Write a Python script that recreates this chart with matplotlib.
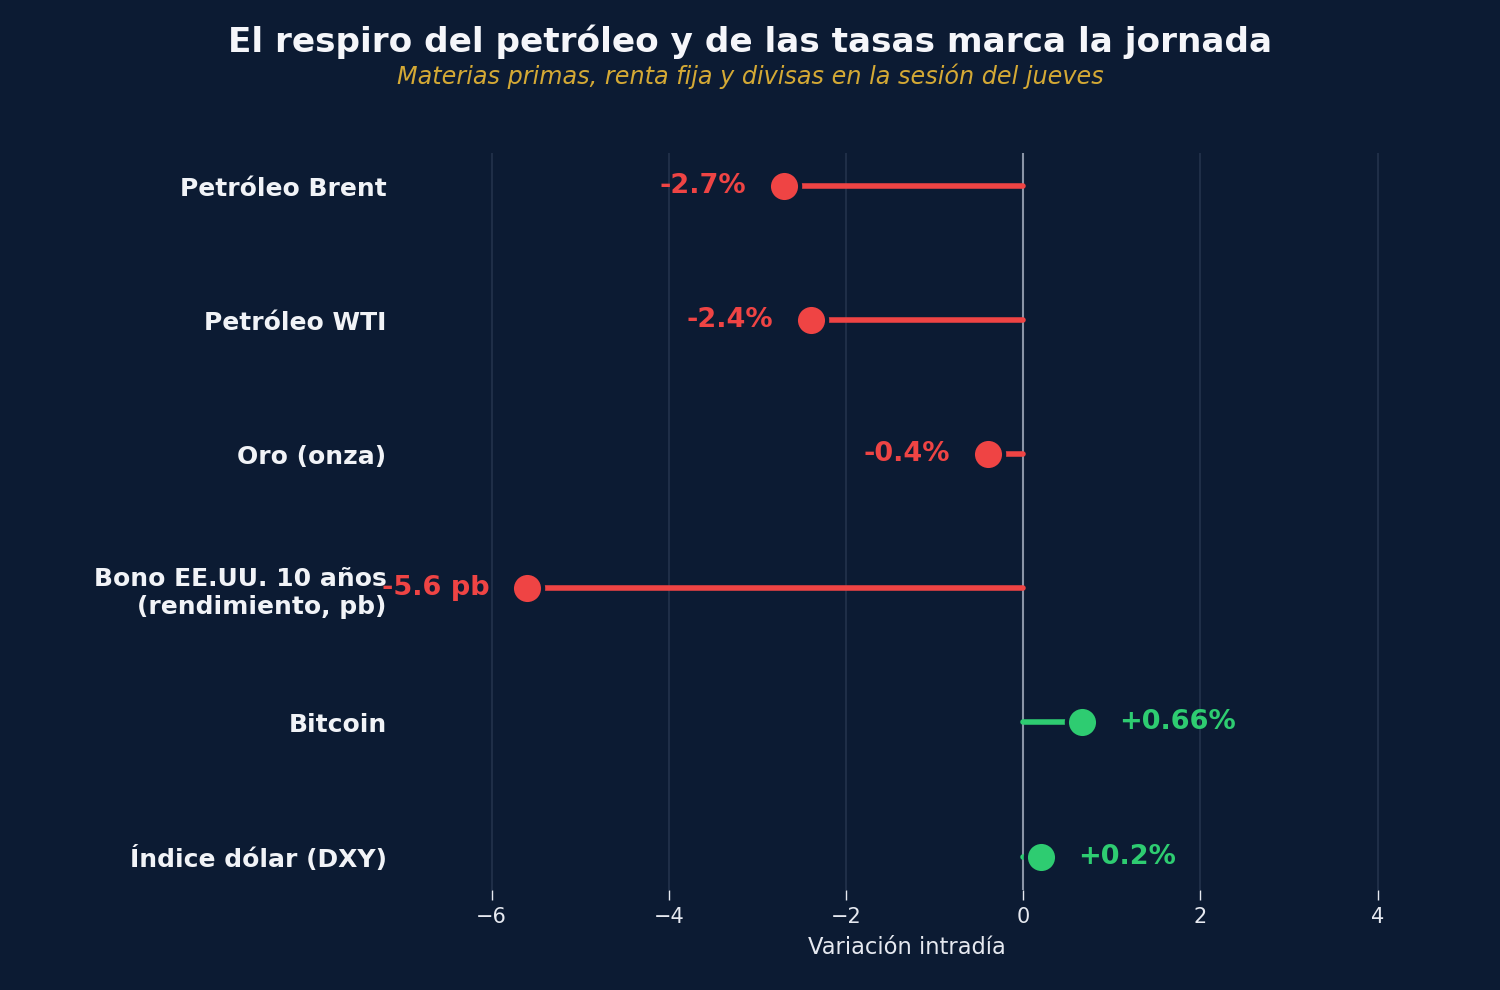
import numpy as np
import matplotlib
matplotlib.use("Agg")
import matplotlib.pyplot as plt

# datos de la sesión
activos = ["Petróleo Brent", "Petróleo WTI", "Oro (onza)",
           "Bono EE.UU. 10 años\n(rendimiento, pb)", "Bitcoin", "Índice dólar (DXY)"]
variacion = [-2.7, -2.4, -0.4, -5.6, 0.66, 0.2]
etiquetas = ["-2.7%", "-2.4%", "-0.4%", "-5.6 pb", "+0.66%", "+0.2%"]

fondo = "#0c1b33"
rojo = "#ef4444"
verde = "#2ecc71"

fig = plt.figure(figsize=(15, 9.9), dpi=100, facecolor=fondo)
ax = fig.add_axes([0.267, 0.101, 0.675, 0.7445])
ax.set_facecolor(fondo)

y = np.arange(len(activos))
for i, (v, lab) in enumerate(zip(variacion, etiquetas)):
    c = rojo if v < 0 else verde
    ax.plot([0, v], [i, i], color=c, lw=4, solid_capstyle="round", zorder=3)
    ax.plot(v, i, "o", ms=22.5, color=c, mec=fondo, mew=3, zorder=4)
    if v < 0:
        ax.annotate(lab, (v, i), xytext=(-27, 0), textcoords="offset points",
                    ha="right", va="center", color=c, fontsize=19.5, fontweight="bold")
    else:
        ax.annotate(lab, (v, i), xytext=(27, 0), textcoords="offset points",
                    ha="left", va="center", color=c, fontsize=19.5, fontweight="bold")

ax.axvline(0, color="#8a94a6", lw=1.5, zorder=2)
ax.set_xlim(-7.03, 4.40)
ax.set_ylim(len(activos) - 0.75, -0.25)
ax.set_yticks(y)
ax.set_yticklabels(activos, fontsize=18, fontweight="bold", color="#f1f3f7")
ax.tick_params(axis="y", length=0, pad=10)
ax.set_xticks([-6, -4, -2, 0, 2, 4])
ax.tick_params(axis="x", colors="#e6e9f0", labelsize=15, length=7, width=1, pad=5)
ax.xaxis.grid(True, color="#1f2e47", lw=1.5)
ax.set_axisbelow(True)
for s in ax.spines.values():
    s.set_visible(False)
ax.set_xlabel("Variación intradía", color="#e6e9f0", fontsize=16.3, labelpad=7)

fig.text(0.5, 0.958, "El respiro del petróleo y de las tasas marca la jornada",
         ha="center", va="center", color="#f5f6fa", fontsize=24.7, fontweight="bold")
fig.text(0.5, 0.923, "Materias primas, renta fija y divisas en la sesión del jueves",
         ha="center", va="center", color="#d4a935", fontsize=17.2, style="italic")

fig.savefig("out.png", dpi=100, facecolor=fondo)
